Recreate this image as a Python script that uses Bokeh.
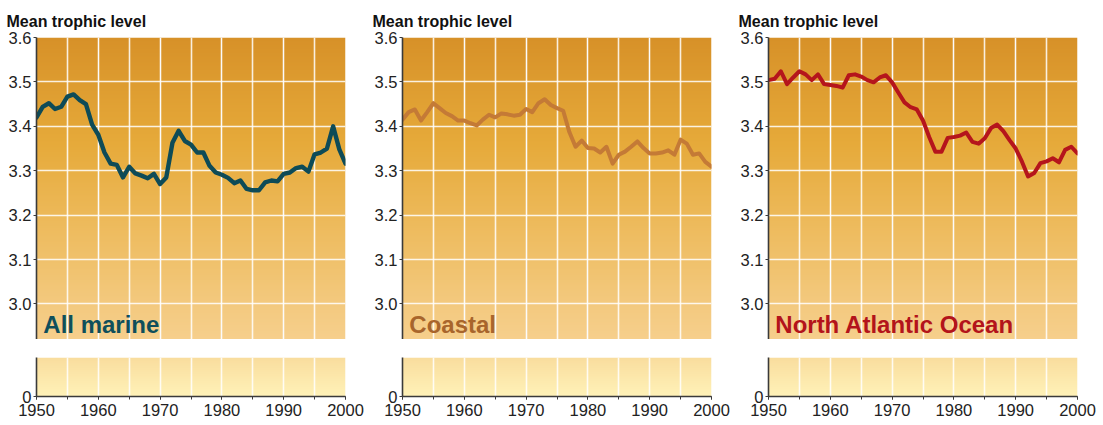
import numpy as np
from bokeh.plotting import figure
from bokeh.layouts import row, column
from bokeh.models import FixedTicker, SingleIntervalTicker, PrintfTickFormatter, Grid, Title, Label
from bokeh.embed import file_html
from bokeh.resources import INLINE

years = list(range(1950, 2001))

all_marine = [3.420, 3.444, 3.452, 3.439, 3.444, 3.467, 3.472, 3.459, 3.450, 3.404,
              3.381, 3.341, 3.316, 3.313, 3.285, 3.309, 3.294, 3.289, 3.283, 3.293,
              3.270, 3.285, 3.363, 3.390, 3.367, 3.359, 3.341, 3.341, 3.311, 3.296,
              3.291, 3.284, 3.272, 3.278, 3.259, 3.256, 3.256, 3.274, 3.278, 3.276,
              3.293, 3.296, 3.306, 3.309, 3.298, 3.337, 3.341, 3.350, 3.400, 3.348,
              3.316]

coastal = [3.415, 3.432, 3.438, 3.413, 3.432, 3.452, 3.441, 3.430, 3.423, 3.413,
           3.413, 3.407, 3.402, 3.415, 3.426, 3.420, 3.429, 3.427, 3.424, 3.426,
           3.439, 3.432, 3.452, 3.461, 3.448, 3.441, 3.435, 3.387, 3.354, 3.368,
           3.351, 3.350, 3.341, 3.354, 3.316, 3.336, 3.343, 3.354, 3.366, 3.351,
           3.339, 3.339, 3.341, 3.346, 3.336, 3.370, 3.361, 3.336, 3.339, 3.320,
           3.309]

north_atlantic = [3.504, 3.507, 3.524, 3.495, 3.510, 3.524, 3.517, 3.504, 3.517, 3.495,
                  3.493, 3.491, 3.487, 3.515, 3.517, 3.512, 3.504, 3.499, 3.510, 3.515,
                  3.499, 3.476, 3.454, 3.443, 3.438, 3.413, 3.376, 3.343, 3.343, 3.374,
                  3.376, 3.379, 3.386, 3.365, 3.361, 3.373, 3.396, 3.404, 3.389, 3.369,
                  3.350, 3.321, 3.287, 3.295, 3.317, 3.321, 3.328, 3.319, 3.347, 3.354,
                  3.339]

panel_names = ["All marine", "Coastal", "North Atlantic Ocean"]
series = [all_marine, coastal, north_atlantic]
y_ticks = [3.0, 3.1, 3.2, 3.3, 3.4, 3.5, 3.6]
y_title = "Mean trophic level"

line_colors = ["#0E4B57", "#C47A36", "#B5151C"]
label_colors = ["#0F4F5B", "#A8652C", "#B3141B"]
line_widths = [4.4, 4.0, 4.0]

FONT = "Liberation Sans"
X0, X1 = 1950, 2000
UP_LO, UP_HI = 2.92, 3.6


def gradient(n, stops):
    img = np.empty((n, 1), dtype=np.uint32)
    view = img.view(dtype=np.uint8).reshape((n, 1, 4))
    fr = np.array([s[0] for s in stops])
    cols = np.array([s[1] for s in stops], dtype=float)
    for i in range(n):
        t = 1.0 - i / (n - 1)  # row 0 is bottom
        for c in range(3):
            view[i, 0, c] = int(round(np.interp(t, fr, cols[:, c])))
        view[i, 0, 3] = 255
    return img


up_stops = [(0.0, (215, 145, 40)), (0.35, (230, 170, 58)), (0.65, (238, 188, 96)),
            (0.88, (243, 201, 126)), (1.0, (246, 207, 140))]
lo_stops = [(0.0, (249, 221, 158)), (1.0, (255, 242, 184))]
up_img = gradient(300, up_stops)
lo_img = gradient(60, lo_stops)

grid_ticks = [1955, 1960, 1965, 1970, 1975, 1980, 1985, 1990, 1995]


def style_axis(ax, standoff):
    ax.axis_line_color = "#3a3a3a"
    ax.axis_line_width = 1.6
    ax.major_tick_line_color = "#3a3a3a"
    ax.minor_tick_line_color = "#3a3a3a"
    ax.major_tick_in = 0
    ax.major_tick_out = 3
    ax.minor_tick_in = 0
    ax.minor_tick_out = 3
    ax.major_label_text_font = FONT
    ax.major_label_text_font_size = "16.5px"
    ax.major_label_text_color = "#222222"
    ax.major_label_standoff = standoff


cols = []
for k in range(3):
    up = figure(frame_width=309, frame_height=302, x_range=(X0, X1), y_range=(UP_LO, UP_HI),
                output_backend="svg", toolbar_location=None, x_axis_location=None,
                min_border_left=36, min_border_right=21, min_border_top=37, min_border_bottom=0)
    up.outline_line_color = None
    up.background_fill_color = "white"
    up.border_fill_color = "white"
    r = up.image_rgba(image=[up_img], x=X0, y=UP_LO, dw=X1 - X0, dh=UP_HI - UP_LO)
    r.level = "image"
    up.ygrid.ticker = FixedTicker(ticks=y_ticks[:-1])
    up.ygrid.grid_line_color = "white"
    up.ygrid.grid_line_alpha = 0.85
    up.ygrid.grid_line_width = 1.6
    up.add_layout(Grid(dimension=0, ticker=FixedTicker(ticks=grid_ticks),
                       grid_line_color="white", grid_line_alpha=0.85, grid_line_width=1.6))
    up.yaxis.ticker = FixedTicker(ticks=y_ticks)
    up.yaxis.formatter = PrintfTickFormatter(format="%.1f")
    style_axis(up.yaxis, 2)
    up.yaxis.minor_tick_line_color = None
    up.title = Title(text=y_title, align="left", offset=-30, standoff=16,
                     text_font=FONT, text_font_size="16px", text_font_style="bold",
                     text_color="#111111")
    up.line(years, series[k], line_color=line_colors[k], line_width=line_widths[k],
            line_join="round", line_cap="round")
    up.add_layout(Label(x=X0 + 1.1, y=2.923, text=panel_names[k], text_font=FONT,
                        text_font_size="24px", text_font_style="bold",
                        text_color=label_colors[k], text_baseline="bottom"))

    lo = figure(frame_width=309, frame_height=39, x_range=(X0, X1), y_range=(0, 1),
                output_backend="svg", toolbar_location=None,
                min_border_left=36, min_border_right=21, min_border_top=18, min_border_bottom=0)
    lo.outline_line_color = None
    lo.background_fill_color = "white"
    lo.border_fill_color = "white"
    r2 = lo.image_rgba(image=[lo_img], x=X0, y=0, dw=X1 - X0, dh=1)
    r2.level = "image"
    lo.ygrid.visible = False
    lo.xgrid.ticker = FixedTicker(ticks=grid_ticks)
    lo.xgrid.grid_line_color = "white"
    lo.xgrid.grid_line_alpha = 0.85
    lo.xgrid.grid_line_width = 1.6
    lo.xaxis.ticker = SingleIntervalTicker(interval=10, num_minor_ticks=2)
    style_axis(lo.xaxis, 4)
    lo.yaxis.ticker = FixedTicker(ticks=[0])
    style_axis(lo.yaxis, 2)
    lo.yaxis.minor_tick_line_color = None
    cols.append(column(up, lo, spacing=0))

layout = row(*cols, spacing=0)
open("out.html", "w").write(file_html(layout, INLINE))
